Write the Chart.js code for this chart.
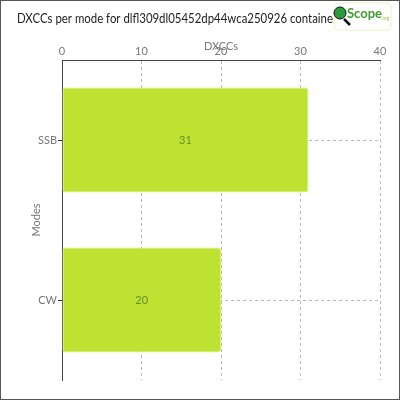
<!DOCTYPE html>
<html>
<head>
<meta charset="utf-8">
<script src="https://cdn.jsdelivr.net/npm/chart.js@4"></script>
<style>
  html, body { margin: 0; padding: 0; background: #fff; }
  #wrap { width: 400px; height: 400px; }
</style>
</head>
<body>
<div id="wrap"><canvas id="modeChart" width="400" height="400"></canvas></div>
<script>
// data
const modes = ["SSB", "CW"];
const dxccCounts = [31, 20];
const xTicks = [0, 10, 20, 30, 40];
const chartTitle = "DXCCs per mode for dlfl309dl05452dp44wca250926 containe";

const FONT = "Lato, 'Open Sans', sans-serif";

// frame, title and logo
const decorPlugin = {
    id: "decor",
    beforeDraw(chart) {
        const ctx = chart.ctx;
        ctx.save();
        ctx.fillStyle = "#fff";
        ctx.fillRect(0, 0, chart.width, chart.height);
        ctx.restore();
    },
    afterDraw(chart) {
        const ctx = chart.ctx;
        ctx.save();
        ctx.strokeStyle = "#555";
        ctx.lineWidth = 1;
        ctx.strokeRect(0.5, 0.5, chart.width - 1, chart.height - 1);

        // title squeezed to the width it takes in the original
        ctx.fillStyle = "#222";
        ctx.font = "13px " + FONT;
        ctx.textBaseline = "middle";
        ctx.textAlign = "left";
        const w = ctx.measureText(chartTitle).width;
        ctx.save();
        ctx.translate(17, 19);
        ctx.scale(316 / w, 1);
        ctx.fillText(chartTitle, 0, 0);
        ctx.restore();

        // logo box
        ctx.fillStyle = "#fff";
        ctx.strokeStyle = "#eef2c8";
        ctx.beginPath();
        ctx.roundRect(334, 3, 57, 27, 4);
        ctx.fill();
        ctx.stroke();
        // magnifier
        ctx.strokeStyle = "#111";
        ctx.lineWidth = 2.5;
        ctx.beginPath();
        ctx.moveTo(344, 19);
        ctx.lineTo(350, 25);
        ctx.stroke();
        ctx.fillStyle = "#2c9a3a";
        ctx.lineWidth = 1;
        ctx.beginPath();
        ctx.arc(340, 13, 6, 0, Math.PI * 2);
        ctx.fill();
        ctx.stroke();
        ctx.fillStyle = "#3f9a2a";
        ctx.font = "bold 13px " + FONT;
        ctx.fillText("Scope", 347, 14);
        ctx.fillStyle = "#9cc95a";
        ctx.font = "5px " + FONT;
        ctx.fillText(".org", 381, 18);
        ctx.restore();

        // values in the middle of each bar
        const meta = chart.getDatasetMeta(0);
        ctx.save();
        ctx.fillStyle = "#6b8c26";
        ctx.font = "11px " + FONT;
        ctx.textAlign = "center";
        ctx.textBaseline = "middle";
        meta.data.forEach((bar, i) => {
            ctx.fillText(String(dxccCounts[i]), (bar.x + bar.base) / 2, bar.y);
        });
        ctx.restore();
    }
};

new Chart(document.getElementById("modeChart"), {
    type: "bar",
    data: {
        labels: modes,
        datasets: [{
            data: dxccCounts,
            backgroundColor: "#bde232",
            borderColor: "#d8f07a",
            borderWidth: 1,
            borderRadius: 3,
            borderSkipped: false,
            barPercentage: 0.8,
            categoryPercentage: 0.82
        }]
    },
    options: {
        indexAxis: "y",
        responsive: false,
        animation: false,
        layout: { padding: { left: 30, top: 40, right: 20, bottom: 20 } },
        plugins: {
            legend: { display: false },
            title: { display: false },
            tooltip: { enabled: false }
        },
        scales: {
            x: {
                position: "top",
                min: 0,
                max: 40,
                afterBuildTicks: axis => { axis.ticks = xTicks.map(v => ({ value: v })); },
                afterFit: axis => { axis.height = 20; },
                ticks: { color: "#777", font: { family: FONT, size: 11 }, padding: 2 },
                title: {
                    display: true, text: "DXCCs", color: "#777",
                    font: { family: FONT, size: 11 }, padding: 0
                },
                grid: { color: "#bbb", drawTicks: false },
                border: { color: "#444", width: 1, dash: [3, 3] }
            },
            y: {
                afterFit: axis => { axis.width = 32; },
                ticks: { color: "#777", font: { family: FONT, size: 11 }, padding: 1 },
                title: {
                    display: true, text: "Modes", color: "#777",
                    font: { family: FONT, size: 11 }, padding: 0
                },
                grid: { offset: false, color: "#bbb", tickColor: "#333", tickLength: 4, tickBorderDash: [] },
                border: { color: "#444", width: 1, dash: [3, 3] }
            }
        }
    },
    plugins: [decorPlugin]
});
</script>
</body>
</html>
